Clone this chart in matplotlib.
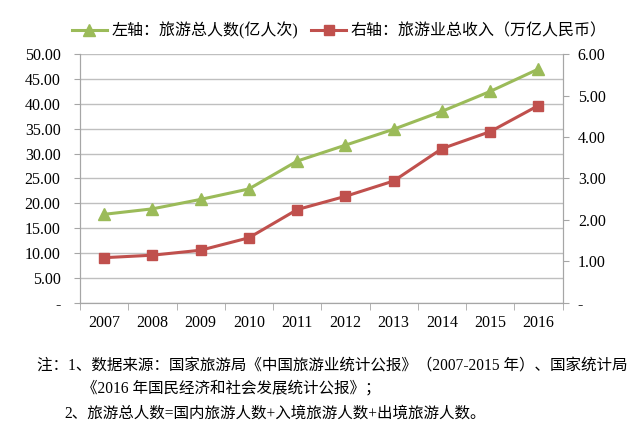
import matplotlib.pyplot as plt
from matplotlib.ticker import FuncFormatter, FixedLocator
import numpy as np

plt.rcParams['font.family'] = ['Liberation Serif', 'Noto Sans CJK SC', 'DejaVu Sans']

years = ['2007', '2008', '2009', '2010', '2011', '2012', '2013', '2014', '2015', '2016']
tourists = [17.8, 18.9, 20.8, 22.9, 28.5, 31.7, 34.9, 38.5, 42.5, 47.0]   # 亿人次
revenue = [1.09, 1.15, 1.27, 1.57, 2.25, 2.57, 2.94, 3.72, 4.13, 4.76]    # 万亿人民币

label_left = '左轴：旅游总人数(亿人次)'
label_right = '右轴：旅游业总收入（万亿人民币）'
notes = [
    '注：1、数据来源：国家旅游局《中国旅游业统计公报》（2007-2015 年）、国家统计局',
    '《2016 年国民经济和社会发展统计公报》；',
    '2、旅游总人数=国内旅游人数+入境旅游人数+出境旅游人数。',
]

green = '#9BBB59'
red = '#C0504D'
axcol = '#A6A6A6'

fig = plt.figure(figsize=(6.4, 4.26), dpi=100)
ax = fig.add_axes([0.125, 0.289, 0.754, 0.584])
ax2 = ax.twinx()

x = np.arange(len(years))
l1, = ax.plot(x, tourists, color=green, lw=2.2, marker='^', markersize=8, label=label_left)
l2, = ax2.plot(x, revenue, color=red, lw=2.2, marker='s', markersize=7, label=label_right)

ax.set_xlim(-0.5, len(years) - 0.5)
ax.set_ylim(0, 50)
ax2.set_ylim(0, 6)
ax.set_yticks(np.arange(0, 51, 5))
ax2.set_yticks(np.arange(0, 7, 1))

fmt = FuncFormatter(lambda v, p: '-' if abs(v) < 1e-9 else '%.2f' % v)
ax.yaxis.set_major_formatter(fmt)
ax2.yaxis.set_major_formatter(fmt)

ax.set_xticks(x)
ax.set_xticklabels(years)
ax.xaxis.set_minor_locator(FixedLocator(np.arange(-0.5, len(years), 1)))
ax.tick_params(axis='x', which='major', length=0, pad=9, labelsize=11.5)
ax.tick_params(axis='x', which='minor', length=5, color=axcol, direction='out')
ax.tick_params(axis='y', length=4, color=axcol, labelsize=11.5, pad=10)
ax2.tick_params(axis='y', length=4, color=axcol, labelsize=11.5, pad=7)

ax.grid(axis='y', color='#BFBFBF', lw=1)
ax.set_axisbelow(True)
for a in (ax, ax2):
    a.spines['top'].set_visible(False)
    for s in ('left', 'right', 'bottom'):
        a.spines[s].set_color(axcol)

fig.legend(handles=[l1, l2], loc='center', bbox_to_anchor=(0.53, 0.928), ncol=2,
           frameon=False, fontsize=11.5, handlelength=2.2, columnspacing=0.8, handletextpad=0.3)

fig.text(0.058, 0.143, notes[0], fontsize=11.2, va='center')
fig.text(0.128, 0.088, notes[1], fontsize=11.2, va='center')
fig.text(0.100, 0.030, notes[2], fontsize=11.2, va='center')

fig.savefig('out.png', dpi=100)
